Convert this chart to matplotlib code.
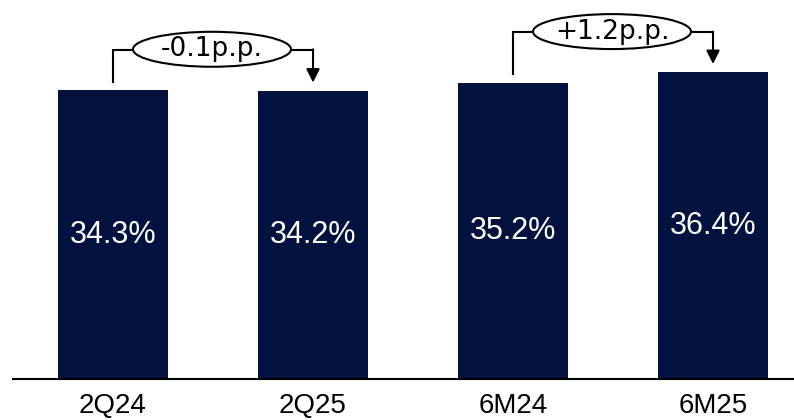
import matplotlib.pyplot as plt
from matplotlib.patches import Ellipse

categories = ['2Q24', '2Q25', '6M24', '6M25']
values = [34.3, 34.2, 35.2, 36.4]
labels = ['34.3%', '34.2%', '35.2%', '36.4%']

# comparisons: (from index, to index, label)
changes = [(0, 1, '-0.1p.p.'), (2, 3, '+1.2p.p.')]

navy = '#03113F'
plt.rcParams['font.family'] = ['Liberation Sans', 'DejaVu Sans']

fig = plt.figure(figsize=(7.94, 4.2), dpi=100)
ax = fig.add_axes([0.0164, 0.0976, 0.9836, 0.9024])

x = list(range(len(categories)))
bars = ax.bar(x, values, width=0.55, color=navy)

for xi, v, lab in zip(x, values, labels):
    ax.text(xi, v / 2, lab, ha='center', va='center', color='white', fontsize=22)

for i, j, lab in changes:
    y_line = max(values[i], values[j]) + 4.75
    xm = (i + j) / 2
    # left leg and horizontal line
    ax.plot([i, i, xm], [values[i] + 1.0, y_line, y_line], color='black', lw=1.5,
            solid_joinstyle='miter', clip_on=False)
    # right leg with arrow
    ax.plot([xm, j], [y_line, y_line], color='black', lw=1.5, clip_on=False)
    ax.annotate('', xy=(j, values[j] + 1.0), xytext=(j, y_line + 0.09),
                arrowprops=dict(arrowstyle='-|>', lw=1.5, color='black',
                                mutation_scale=20, shrinkA=0, shrinkB=0),
                annotation_clip=False)
    ax.add_patch(Ellipse((xm - 0.005, y_line + 0.1), 0.79, 4.15, facecolor='white',
                         edgecolor='black', lw=1.5, clip_on=False, zorder=3))
    ax.text(xm - 0.005, y_line + 0.1, lab, ha='center', va='center', fontsize=19,
            family='DejaVu Sans', zorder=4)

ax.set_xlim(-0.5, 3.405)
ax.set_ylim(0, 45)
ax.set_xticks(x)
ax.set_xticklabels(categories, fontsize=20)
ax.tick_params(axis='x', length=0, pad=10)
ax.set_yticks([])
for s in ['top', 'left', 'right']:
    ax.spines[s].set_visible(False)
ax.spines['bottom'].set_linewidth(1.5)

fig.savefig('out.png', dpi=100)
